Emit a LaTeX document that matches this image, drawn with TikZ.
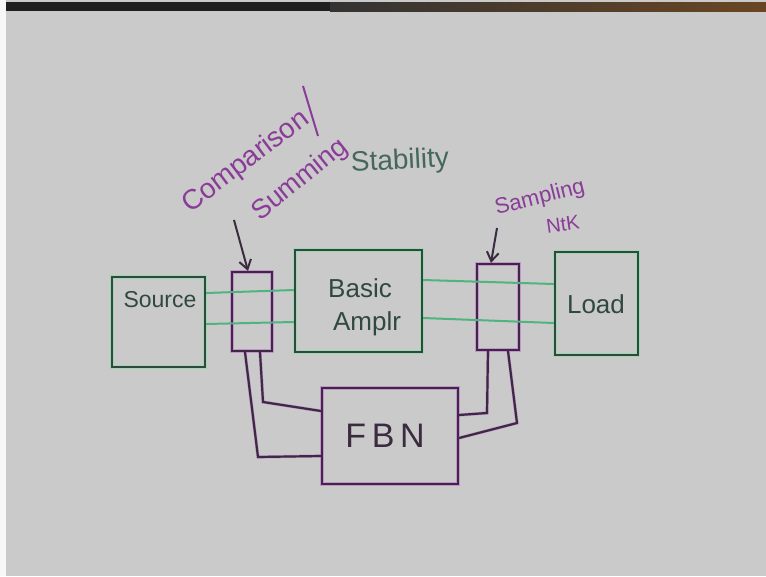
\documentclass[tikz,border=0pt]{standalone}
\usepackage{fontspec}
\setmainfont{Liberation Sans}
\usetikzlibrary{arrows.meta,calc}
\definecolor{bg}{HTML}{CACACA}
\definecolor{gdark}{HTML}{30493E}
\definecolor{gglow}{HTML}{8FDCAA}
\definecolor{wiregreen}{HTML}{4FB47E}
\definecolor{pdark}{HTML}{3A2B40}
\definecolor{pglow}{HTML}{C77AD6}
\definecolor{ptext}{HTML}{8A3C98}
\definecolor{stab}{HTML}{46685A}
\tikzset{
  gbox/.style={draw=gdark, line width=2.2pt, preaction={draw=gglow, draw opacity=0.7, line width=3.2pt}},
  pbox/.style={draw=pdark, line width=2.2pt, preaction={draw=pglow, draw opacity=0.7, line width=3.2pt}},
  wire/.style={draw=wiregreen, line width=2pt},
  pwire/.style={draw=pdark, line width=2.2pt, preaction={draw=pglow, draw opacity=0.7, line width=3.2pt}},
  parrow/.style={draw=pdark, line width=2pt, -{Straight Barb[length=9pt,width=12pt,line width=2pt]}},
  lbl/.style={inner sep=0pt, text=gdark},
  plbl/.style={inner sep=0pt, text=ptext},
}
\begin{document}
\begin{tikzpicture}[x=1pt,y=-1pt]
\fill[bg] (0,0) rectangle (766,576);
\useasboundingbox (0,0) rectangle (766,576);
\fill[black!88] (6,2) rectangle (330,11);
\shade[left color=black!80, right color=brown!55!black] (330,2) rectangle (766,11);
\fill[white!85!bg] (0,0) rectangle (6,576);

% boxes
\node[gbox, minimum width=93pt, minimum height=90pt] (src) at (158.5,322) {};
\node[pbox, minimum width=40pt, minimum height=79pt] (sum) at (252,311.5) {};
\node[gbox, minimum width=127pt, minimum height=102pt] (amp) at (358.5,301) {};
\node[pbox, minimum width=42pt, minimum height=86pt] (smp) at (498,307) {};
\node[gbox, minimum width=83pt, minimum height=103pt] (load) at (596.5,303.5) {};
\node[pbox, minimum width=136pt, minimum height=96pt] (fbn) at (390,436) {};

% box labels
\node[lbl, font=\fontsize{23}{26}\selectfont] (srct) at (160,300) {Source};
\node[lbl, font=\fontsize{26}{30}\selectfont] (ampt1) at (360,288) {Basic};
\node[lbl, font=\fontsize{26}{30}\selectfont] (ampt2) at (367,324) {Amplr};
\node[lbl, font=\fontsize{26}{30}\selectfont] (loadt) at (596,304) {Load};
\node[lbl, text=pdark, font=\fontsize{34}{38}\selectfont] (fbnt) at (385,436) {F\,B\,N};

% signal wires
\draw[wire] (src.east |- 0,293) -- (amp.west |- 0,290);
\draw[wire] (src.east |- 0,324) -- (amp.west |- 0,322);
\draw[wire] (amp.east |- 0,280) -- (load.west |- 0,284);
\draw[wire] (amp.east |- 0,318) -- (load.west |- 0,323);

% feedback wires
\draw[pwire] (sum.south -| 260,0) -- (263,402) -- (fbn.west |- 0,411);
\draw[pwire] (sum.south -| 245,0) -- (258,457) -- (fbn.west |- 0,456);
\draw[pwire] (smp.south -| 488,0) -- (487,413) -- (fbn.east |- 0,415);
\draw[pwire] (smp.south -| 508,0) -- (517,423) -- (fbn.east |- 0,438);

% annotations
\node[plbl, rotate=37, font=\fontsize{28}{32}\selectfont] (cmp) at (246,162) {Comparison};
\draw[draw=ptext, line width=2pt] (303,86) -- (318,136);
\node[plbl, rotate=39, font=\fontsize{27}{32}\selectfont] (smm) at (300,180) {Summing};
\node[inner sep=0pt, text=stab, rotate=3, font=\fontsize{28}{32}\selectfont] (stb) at (400,162) {Stability};
\node[plbl, rotate=14, font=\fontsize{22}{26}\selectfont] (spl) at (540,198) {Sampling};
\node[plbl, rotate=8, font=\fontsize{20}{24}\selectfont] (ntk) at (563,224) {NtK};

\draw[parrow] (234,220) -- (sum.north -| 248,0);
\draw[parrow] (497,228) -- (smp.north -| 491,0);
\end{tikzpicture}
\end{document}
